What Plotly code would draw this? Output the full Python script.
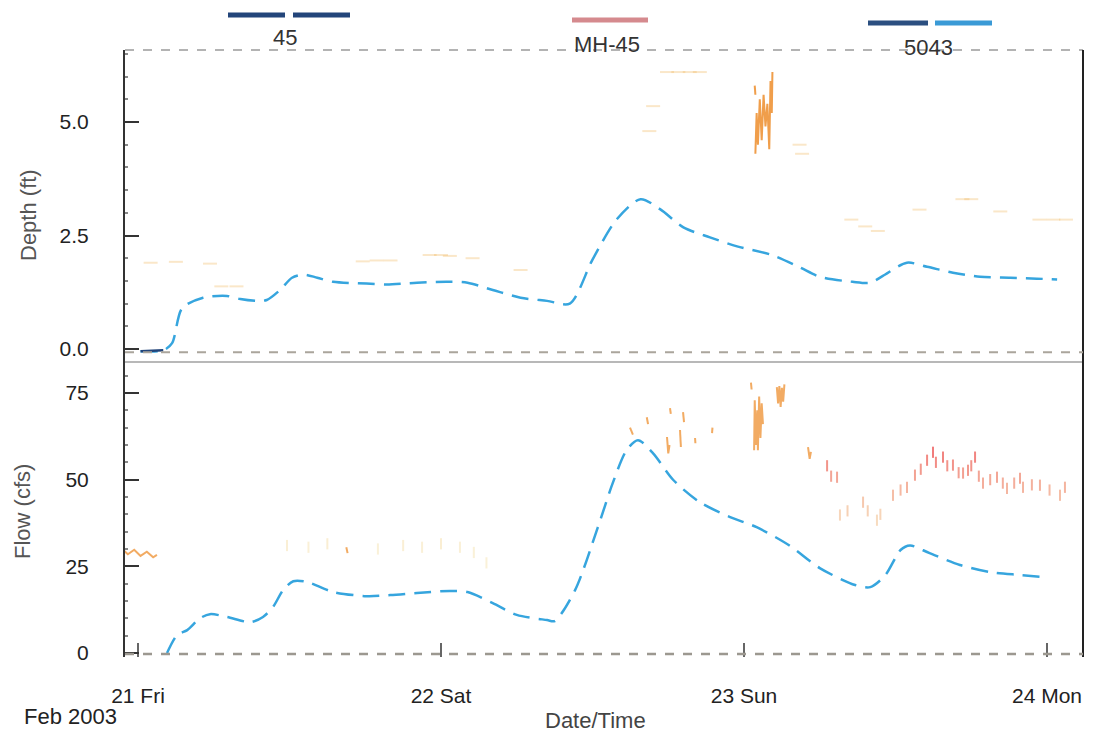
import pandas as pd
import plotly.graph_objects as go
from plotly.subplots import make_subplots

BASE = pd.Timestamp("2003-02-21 00:00")

# ---- 5043 model results (hours after 21 Feb 00:00) ----
depth_hr = [0.2, 2.0, 2.7, 3.5, 5.15, 7.05, 8.1, 9.4, 10.2, 11.25, 12.2, 13.1, 14.2, 15.45,
            18.1, 19.7, 22.1, 24.5, 26.1, 28.1, 30.3, 32.4, 34.2, 36.0, 37.9, 39.8, 41.35,
            43.2, 45.3, 47.45, 50.1, 52.4, 54.0, 56.6, 58.0, 59.0, 60.9, 62.5, 64.55, 66.7,
            69.1, 71.2, 72.8]
depth_ft = [-0.05, -0.03, 0.13, 0.9, 1.13, 1.17, 1.1, 1.06, 1.08, 1.3, 1.57, 1.64, 1.57, 1.48,
            1.44, 1.42, 1.46, 1.48, 1.46, 1.3, 1.13, 1.06, 1.0, 1.97, 2.85, 3.3, 3.08,
            2.68, 2.46, 2.26, 2.08, 1.8, 1.59, 1.48, 1.46, 1.61, 1.9, 1.81, 1.68, 1.59,
            1.57, 1.55, 1.53]

flow_hr = [2.3, 3.1, 3.9, 4.9, 5.7, 7.05, 8.9, 9.9, 10.7, 11.5, 12.3, 13.4, 15.45, 18.1,
           20.0, 22.1, 24.7, 26.1, 28.1, 30.0, 32.4, 33.0, 34.6, 36.4, 37.6, 38.7, 39.6,
           40.8, 42.4, 44.5, 46.9, 49.0, 51.6, 54.0, 56.8, 58.0, 59.2, 60.4, 61.15, 62.7,
           65.1, 67.5, 69.9, 71.8]
flow_cfs = [0.0, 5.2, 6.6, 10.0, 11.2, 10.4, 8.9, 10.4, 13.3, 18.2, 20.7, 20.5, 17.6, 16.4,
            16.7, 17.3, 17.9, 17.6, 14.4, 11.0, 9.5, 9.2, 18.0, 36.0, 49.0, 58.5, 61.4,
            57.6, 49.9, 43.5, 39.2, 36.3, 31.0, 24.5, 19.6, 19.0, 22.5, 29.7, 31.0, 28.8,
            25.4, 23.3, 22.5, 21.9]

# ---- MH-45 meter readings ----
depth_spike_hr = [48.85, 48.9, None,
                  48.9, 49.0, 49.1, 49.25, 49.4, 49.55, 49.7, 49.85, 50.0, 50.1, 50.2, 50.25]
depth_spike_ft = [5.8, 5.6, None,
                  4.3, 5.2, 4.5, 5.5, 4.6, 5.6, 4.9, 5.4, 4.4, 5.9, 5.2, 6.1]

depth_dots_hr = [1.0, 3.0, 5.7, 6.6, 7.8, 17.8, 18.9, 20.0, 23.1, 24.0, 24.7, 26.5, 30.3,
                 40.5, 40.8, 41.9, 42.8, 43.7, 44.5, 52.4, 52.6, 56.5, 57.6, 58.6, 61.9,
                 65.3, 66.0, 68.3, 71.4, 72.5, 73.5]
depth_dots_ft = [1.9, 1.92, 1.88, 1.38, 1.38, 1.93, 1.95, 1.95, 2.07, 2.07, 2.05, 2.0, 1.74,
                 4.8, 5.35, 6.1, 6.1, 6.1, 6.1, 4.5, 4.3, 2.85, 2.7, 2.6, 3.07,
                 3.3, 3.3, 3.03, 2.85, 2.85, 2.85]

flow_spike_hr = [-1.4, -0.8, -0.3, 0.2, 0.7, 1.2, 1.5, None,
                 16.5, 16.6, None,
                 38.97, 39.2, None, 40.3, 40.4, None, 41.9, 42.0, 42.1, None,
                 42.14, 42.2, None, 42.93, 43.0, None, 43.17, 43.25, None,
                 44.12, 44.15, None, 45.47, 45.5, None,
                 48.55, 48.6, None,
                 48.8, 48.85, 48.95, 49.05, 49.1, 49.2, 49.3, 49.4, 49.5, None,
                 50.6, 50.7, 50.8, 50.9, 51.0, 51.1, 51.2, None,
                 53.07, 53.2, 53.3]
flow_spike_cfs = [30.5, 28.5, 29.8, 28.0, 29.2, 27.6, 28.3, None,
                  30.5, 28.8, None,
                  65.0, 63.0, None, 68.0, 66.0, None, 62.3, 57.6, 60.0, None,
                  70.6, 69.0, None, 64.3, 59.4, None, 69.5, 66.6, None,
                  62.0, 60.5, None, 63.4, 65.0, None,
                  78.0, 76.0, None,
                  58.5, 72.9, 60.0, 70.0, 58.5, 74.0, 62.0, 72.0, 66.0, None,
                  76.7, 72.0, 77.0, 71.0, 76.5, 72.5, 77.5, None,
                  59.4, 56.0, 58.0]

flow_dots_hr = [11.8, 13.5, 15.0, 19.0, 21.0, 22.5, 24.0, 25.5, 26.6, 27.6, 55.37,
                54.58, 54.9, 55.6, 56.2, 57.43, 57.8, 58.53, 58.8, 59.8, 60.4, 60.91, 61.54,
                62.0, 62.5, 62.97, 63.2, 63.76, 64.1, 64.55, 65.0, 65.35, 65.74, 66.0, 66.3,
                66.6, 66.93, 67.5, 68.04, 68.5, 68.83, 69.4, 69.86, 70.1, 70.8, 71.44, 72.2,
                73.03, 73.42]
flow_dots_cfs = [31.0, 30.5, 31.5, 30.0, 31.0, 30.5, 31.5, 30.5, 29.0, 26.0, 50.7,
                 54.0, 51.0, 39.8, 41.0, 43.5, 41.0, 38.3, 40.0, 45.5, 47.0, 47.8, 51.3,
                 53.0, 55.6, 57.9, 55.0, 56.5, 54.0, 54.2, 52.0, 51.9, 52.7, 54.0, 56.5,
                 51.0, 49.0, 50.0, 50.7, 49.0, 47.5, 49.0, 50.4, 47.8, 48.5, 48.4, 47.0,
                 45.5, 47.8]

day_ticks = ["2003-02-21", "2003-02-22", "2003-02-23", "2003-02-24"]
day_labels = ["21 Fri", "22 Sat", "23 Sun", "24 Mon"]


def to_time(hours):
    return [None if h is None else BASE + pd.Timedelta(hours=h) for h in hours]


def dot_color(v, lo, hi):
    # warmer (redder) and stronger for higher readings
    t = max(0.0, min(1.0, (v - lo) / (hi - lo)))
    g = int(200 - 120 * t)
    b = int(100 - 20 * t)
    return f"rgba(236,{g},{b},{0.25 + 0.5 * t:.2f})"


W, H = 1098, 736
X0, X1 = 125, 1083
Y_TOP, Y_MID, Y_BOT = 50, 362, 657


def px(x):
    return x / W


def py(y):
    return 1 - y / H


fig = make_subplots(rows=2, cols=1, shared_xaxes=True, vertical_spacing=0)

BLUE = "#36a5de"
NAVY = "#23457a"
DASH = "17px,9px"
FONT = "Liberation Sans"

# depth panel
fig.add_trace(go.Scatter(x=to_time(depth_dots_hr), y=depth_dots_ft, mode="markers",
                         marker=dict(symbol="line-ew-open", size=10,
                                     color="rgba(240,185,100,0.35)",
                                     line=dict(width=2, color="rgba(240,185,100,0.35)")),
                         showlegend=False, hoverinfo="skip"), row=1, col=1)
fig.add_trace(go.Scatter(x=to_time(depth_spike_hr), y=depth_spike_ft, mode="lines",
                         line=dict(color="#ee8e2c", width=2),
                         opacity=0.85, showlegend=False), row=1, col=1)
fig.add_trace(go.Scatter(x=to_time(depth_hr), y=depth_ft, mode="lines",
                         line=dict(color=BLUE, width=2.5, dash=DASH, shape="spline",
                                   smoothing=0.8),
                         showlegend=False), row=1, col=1)
fig.add_trace(go.Scatter(x=to_time(depth_hr[:2]), y=depth_ft[:2], mode="lines",
                         line=dict(color=NAVY, width=2.5), showlegend=False), row=1, col=1)

# flow panel
dot_cols = [dot_color(v, 30, 58) for v in flow_dots_cfs]
fig.add_trace(go.Scatter(x=to_time(flow_dots_hr), y=flow_dots_cfs, mode="markers",
                         marker=dict(symbol="line-ns-open", size=8, color=dot_cols,
                                     line=dict(width=2, color=dot_cols)),
                         showlegend=False, hoverinfo="skip"), row=2, col=1)
fig.add_trace(go.Scatter(x=to_time(flow_spike_hr), y=flow_spike_cfs, mode="lines",
                         line=dict(color="#ee9030", width=2),
                         opacity=0.75, showlegend=False), row=2, col=1)
fig.add_trace(go.Scatter(x=to_time(flow_hr), y=flow_cfs, mode="lines",
                         line=dict(color=BLUE, width=2.5, dash=DASH, shape="spline",
                                   smoothing=0.8),
                         showlegend=False), row=2, col=1)

x_range = [BASE + pd.Timedelta(hours=-1.03), BASE + pd.Timedelta(hours=74.85)]
x_dom = [px(X0), px(X1)]

fig.update_xaxes(range=x_range, domain=x_dom, showgrid=False, zeroline=False,
                 tickvals=day_ticks, ticktext=day_labels, automargin=False)
fig.update_xaxes(showticklabels=False, ticks="", row=1, col=1)
fig.update_xaxes(ticks="inside", ticklen=14, tickwidth=1.5, tickcolor="#666",
                 tickfont=dict(family=FONT, size=21, color="#222"),
                 ticklabelstandoff=24, row=2, col=1)

axis_font = dict(family=FONT, size=21, color="#222")
fig.update_yaxes(range=[-(362 - 349) / 45.4, (349 - 50) / 45.4],
                 domain=[py(Y_MID), py(Y_TOP)],
                 tickvals=[0, 2.5, 5.0], ticktext=["0.0", "2.5", "5.0"],
                 ticks="inside", ticklen=14, tickwidth=1.5, tickcolor="#333",
                 minor=dict(dtick=0.5, ticks="inside", ticklen=3, tickcolor="#888"),
                 tickfont=axis_font, ticklabelstandoff=30, automargin=False,
                 showgrid=False, zeroline=False,
                 showline=True, linecolor="#333", linewidth=2, row=1, col=1)
fig.update_yaxes(range=[-(Y_BOT - 653) / 3.467, (653 - Y_MID) / 3.467],
                 domain=[py(Y_BOT), py(Y_MID)],
                 tickvals=[0, 25, 50, 75],
                 ticks="inside", ticklen=14, tickwidth=1.5, tickcolor="#333",
                 minor=dict(dtick=5, ticks="inside", ticklen=3, tickcolor="#888"),
                 tickfont=axis_font, ticklabelstandoff=30, automargin=False,
                 showgrid=False, zeroline=False,
                 showline=True, linecolor="#333", linewidth=2, row=2, col=1)

shapes = [
    # frame
    dict(type="line", xref="paper", yref="paper", x0=px(X0), x1=px(X1),
         y0=py(Y_TOP), y1=py(Y_TOP), line=dict(color="#9a9a9a", width=1.5, dash="dash")),
    dict(type="line", xref="paper", yref="paper", x0=px(X0), x1=px(X1),
         y0=py(Y_MID), y1=py(Y_MID), line=dict(color="#a0a0a0", width=1.5)),
    dict(type="line", xref="paper", yref="paper", x0=px(X1), x1=px(X1),
         y0=py(Y_BOT), y1=py(Y_TOP), line=dict(color="#222", width=2)),
    # zero reference in each panel
    dict(type="line", xref="paper", yref="y", x0=px(X0), x1=px(X1), y0=-0.07, y1=-0.07,
         line=dict(color="#aaa59c", width=2, dash="dash")),
    dict(type="line", xref="paper", yref="y2", x0=px(X0), x1=px(X1), y0=-0.3, y1=-0.3,
         line=dict(color="#9c9890", width=2.5, dash="dash")),
]

# legend swatches
swatches = [
    (228, 285, 15, NAVY), (293, 350, 15, NAVY),
    (572, 648, 20, "#d58a8e"),
    (868, 928, 23, "#2b4f80"), (935, 992, 23, "#3a9ad6"),
]
for xa, xb, yy, col in swatches:
    shapes.append(dict(type="rect", xref="paper", yref="paper",
                       x0=px(xa), x1=px(xb), y0=py(yy + 2.5), y1=py(yy - 2.5),
                       fillcolor=col, line=dict(width=0)))


def label(text, x, y, size=22, color="#333", angle=0, xanchor="center"):
    return dict(text=text, x=px(x), y=py(y), xref="paper", yref="paper",
                xanchor=xanchor, yanchor="middle", textangle=angle, showarrow=False,
                font=dict(family=FONT, size=size, color=color))


annotations = [
    label("45", 285, 37),
    label("MH-45", 607, 44),
    label("5043", 928, 47),
    label("Depth (ft)", 28, 215, color="#555", angle=-90),
    label("Flow (cfs)", 22, 512, color="#555", angle=-90),
    label("Feb 2003", 22, 716, color="#222", xanchor="left"),
    label("Date/Time", 595, 720, color="#444"),
]

fig.update_layout(width=W, height=H, margin=dict(l=0, r=0, t=0, b=0, autoexpand=False),
                  paper_bgcolor="white", plot_bgcolor="white",
                  shapes=shapes, annotations=annotations, showlegend=False)

fig.write_html("out.html")
